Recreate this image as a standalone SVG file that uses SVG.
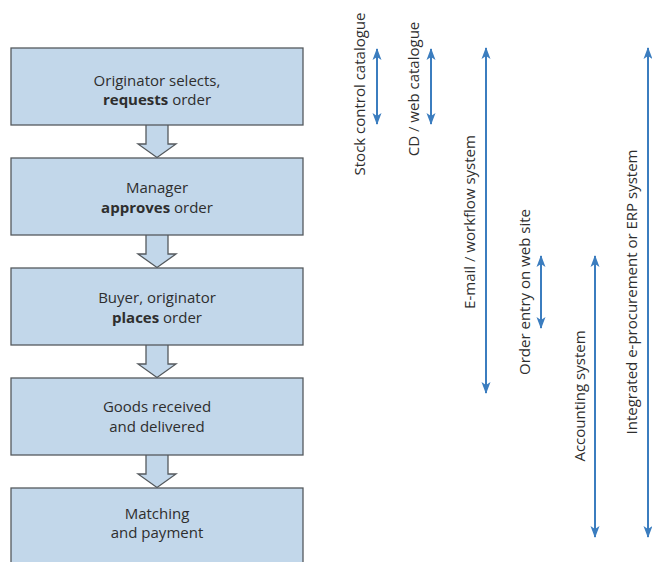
<svg xmlns="http://www.w3.org/2000/svg" width="652" height="562" viewBox="0 0 652 562">
  <style>
    .box { fill: #c2d7ea; stroke: #555a5e; stroke-width: 1.3; }
    .flow { fill: #c2d7ea; stroke: #555a5e; stroke-width: 1.3; stroke-linejoin: miter; }
    .lbl { font-family: "Open Sans", "Noto Sans", sans-serif; font-size: 15px; fill: #2e2e2e; text-anchor: middle; }
    .b { font-weight: bold; }
    .sys { stroke: #3b7dbf; stroke-width: 2; fill: none; marker-start: url(#head); marker-end: url(#head); }
  </style>
  <defs>
    <marker id="head" viewBox="0 0 12 10" refX="11" refY="5" markerWidth="12" markerHeight="10" markerUnits="userSpaceOnUse" orient="auto-start-reverse">
      <path d="M0,0.5 L12,5 L0,9.5 L3,5 Z" fill="#3b7dbf"/>
    </marker>
  </defs>

  <rect width="652" height="562" fill="#ffffff"/>

  <!-- flow arrows between the process steps -->
  <g id="connectors">
    <path class="flow" d="M146,125 V144 H138 L157,157.5 L176,144 H168 V125"/>
    <path class="flow" d="M146,235 V254 H138 L157,267.5 L176,254 H168 V235"/>
    <path class="flow" d="M146,345 V364 H138 L157,377.5 L176,364 H168 V345"/>
    <path class="flow" d="M146,455 V474 H138 L157,487.5 L176,474 H168 V455"/>
  </g>

  <!-- process steps -->
  <g id="step-request">
    <rect class="box" x="11" y="48" width="292" height="77"/>
    <text class="lbl" x="157" y="86">Originator selects,</text>
    <text class="lbl" x="157" y="105"><tspan class="b">requests</tspan> order</text>
  </g>
  <g id="step-approve">
    <rect class="box" x="11" y="158" width="292" height="77"/>
    <text class="lbl" x="157" y="193">Manager</text>
    <text class="lbl" x="157" y="213"><tspan class="b">approves</tspan> order</text>
  </g>
  <g id="step-place">
    <rect class="box" x="11" y="268" width="292" height="77"/>
    <text class="lbl" x="157" y="303">Buyer, originator</text>
    <text class="lbl" x="157" y="323"><tspan class="b">places</tspan> order</text>
  </g>
  <g id="step-receive">
    <rect class="box" x="11" y="378" width="292" height="77"/>
    <text class="lbl" x="157" y="412">Goods received</text>
    <text class="lbl" x="157" y="432">and delivered</text>
  </g>
  <g id="step-pay">
    <rect class="box" x="11" y="488" width="292" height="80"/>
    <text class="lbl" x="157" y="519">Matching</text>
    <text class="lbl" x="157" y="538">and payment</text>
  </g>

  <!-- supporting systems and the span of steps each one covers -->
  <g id="sys-stock">
    <line class="sys" x1="377" y1="49" x2="377" y2="124"/>
    <text class="lbl" transform="translate(365,94) rotate(-90)">Stock control catalogue</text>
  </g>
  <g id="sys-cd">
    <line class="sys" x1="431" y1="49" x2="431" y2="124"/>
    <text class="lbl" transform="translate(419,89) rotate(-90)">CD / web catalogue</text>
  </g>
  <g id="sys-email">
    <line class="sys" x1="486" y1="48" x2="486" y2="393"/>
    <text class="lbl" transform="translate(475,222) rotate(-90)">E-mail / workflow system</text>
  </g>
  <g id="sys-order-entry">
    <line class="sys" x1="541" y1="256" x2="541" y2="328"/>
    <text class="lbl" transform="translate(530,292) rotate(-90)">Order entry on web site</text>
  </g>
  <g id="sys-accounting">
    <line class="sys" x1="595" y1="256" x2="595" y2="537"/>
    <text class="lbl" transform="translate(585,396) rotate(-90)">Accounting system</text>
  </g>
  <g id="sys-erp">
    <line class="sys" x1="648" y1="48" x2="648" y2="537"/>
    <text class="lbl" transform="translate(637,292) rotate(-90)">Integrated e-procurement or ERP system</text>
  </g>
</svg>
